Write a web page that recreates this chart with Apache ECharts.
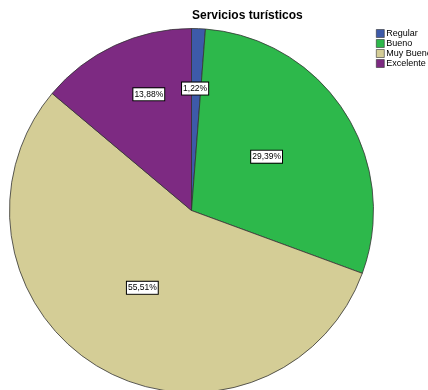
<!DOCTYPE html>
<html>
<head>
<meta charset="utf-8">
<script src="https://cdn.jsdelivr.net/npm/echarts@6/dist/echarts.min.js"></script>
<style>
  html, body { margin: 0; padding: 0; background: #fff; }
  #chart { width: 428px; height: 390px; }
</style>
</head>
<body>
<div id="chart"></div>
<script>
const categories = ['Regular', 'Bueno', 'Muy Bueno', 'Excelente'];
const percents = [1.22, 29.39, 55.51, 13.88];
const colors = ['#3D5AA9', '#2DB84B', '#D4CD96', '#7D2A82'];
// nudges for the inside labels (pixels)
const labelNudge = [[0, -28], [-4, -3], [-2, -4], [-3, -31]];

const chart = echarts.init(document.getElementById('chart'));
chart.setOption({
  animation: false,
  title: {
    text: 'Servicios turísticos',
    left: 192, top: 10,
    textStyle: { fontFamily: 'Liberation Sans, Arial', fontSize: 12, fontWeight: 'bold', color: '#000' },
    padding: 0
  },
  legend: {
    orient: 'vertical',
    left: 376, top: 29,
    padding: 0,
    itemWidth: 8, itemHeight: 8, itemGap: 1,
    icon: 'rect',
    itemStyle: { borderColor: '#333', borderWidth: 0.6 },
    textStyle: { fontFamily: 'Liberation Sans, Arial', fontSize: 9, color: '#000', padding: [0, 0, 0, -3] },
    data: categories
  },
  series: [{
    type: 'pie',
    center: [191.5, 210.5],
    radius: [0, 182],
    startAngle: 90,
    clockwise: true,
    data: categories.map((c, i) => ({ name: c, value: percents[i], itemStyle: { color: colors[i] } })),
    itemStyle: { borderColor: '#333', borderWidth: 0.8 },
    label: {
      position: 'inside',
      formatter: p => p.value.toFixed(2).replace('.', ',') + '%',
      fontFamily: 'Liberation Sans, Arial',
      fontSize: 8.5,
      color: '#000',
      backgroundColor: '#fff',
      borderColor: '#000',
      borderWidth: 1,
      padding: [2, 1, 1, 1]
    },
    labelLayout: p => ({ dx: labelNudge[p.dataIndex][0], dy: labelNudge[p.dataIndex][1] }),
    emphasis: { disabled: true }
  }]
});
</script>
</body>
</html>
